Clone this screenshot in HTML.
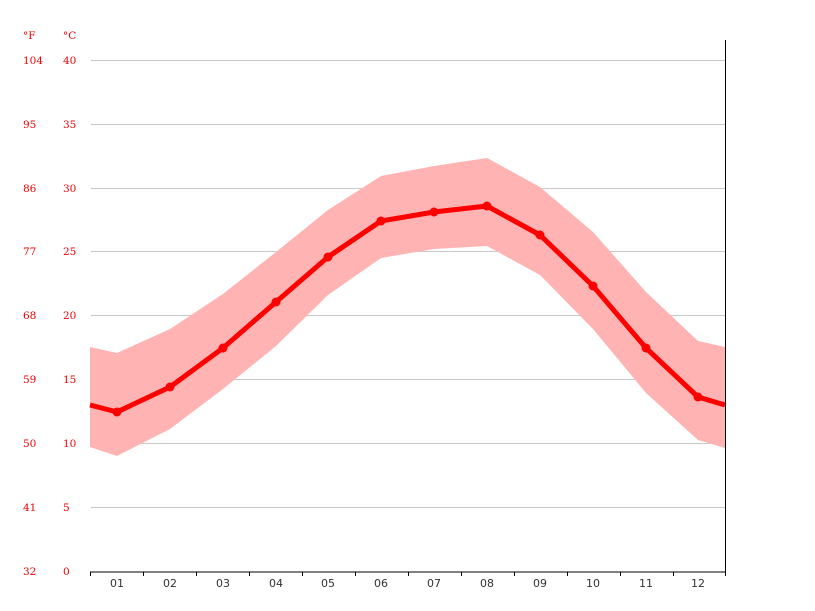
<!DOCTYPE html>
<html><head><style>body{margin:0;background:#fff}svg{display:block}</style></head><body>
<svg width="815" height="611" xmlns="http://www.w3.org/2000/svg">
<g stroke="#c8c8c8" stroke-width="1">
<line x1="91" x2="725" y1="60.5" y2="60.5"/><line x1="91" x2="725" y1="124.5" y2="124.5"/><line x1="91" x2="725" y1="188.5" y2="188.5"/><line x1="91" x2="725" y1="251.5" y2="251.5"/><line x1="91" x2="725" y1="315.5" y2="315.5"/><line x1="91" x2="725" y1="379.5" y2="379.5"/><line x1="91" x2="725" y1="443.5" y2="443.5"/><line x1="91" x2="725" y1="507.5" y2="507.5"/>
</g>
<g font-family="DejaVu Serif, serif" font-size="10.5" fill="#e00">
<text x="23" y="39">°F</text><text x="63" y="39">°C</text>
<text x="23" y="64">104</text><text x="63" y="64">40</text>
<text x="23" y="128">95</text><text x="63" y="128">35</text>
<text x="23" y="192">86</text><text x="63" y="192">30</text>
<text x="23" y="255">77</text><text x="63" y="255">25</text>
<text x="23" y="319">68</text><text x="63" y="319">20</text>
<text x="23" y="383">59</text><text x="63" y="383">15</text>
<text x="23" y="447">50</text><text x="63" y="447">10</text>
<text x="23" y="511">41</text><text x="63" y="511">5</text>
<text x="23" y="575">32</text><text x="63" y="575">0</text>
</g>
<polygon fill="#ffb3b3" points="90,347 117,353 170,329 223,294 276,252 328,210 381,176 434,166 487,158 540,187 593,232 646,292 698,341 725,347 725,448 698,440 646,393 593,329 540,275 487,246 434,249 381,258 328,295 276,346 223,389 170,429 117,456 90,447"/>
<polyline fill="none" stroke="#f00" stroke-width="5" stroke-linejoin="round" points="90,405 117,412 170,387 223,348 276,302 328,257 381,221 434,212 487,206 540,235 593,286 646,348 698,397 725,405"/>
<g fill="#f00">
<circle cx="117" cy="412" r="4.5"/><circle cx="170" cy="387" r="4.5"/><circle cx="223" cy="348" r="4.5"/><circle cx="276" cy="302" r="4.5"/><circle cx="328" cy="257" r="4.5"/><circle cx="381" cy="221" r="4.5"/><circle cx="434" cy="212" r="4.5"/><circle cx="487" cy="206" r="4.5"/><circle cx="540" cy="235" r="4.5"/><circle cx="593" cy="286" r="4.5"/><circle cx="646" cy="348" r="4.5"/><circle cx="698" cy="397" r="4.5"/>
</g>
<g stroke="#000" stroke-width="1">
<line x1="725.5" x2="725.5" y1="40" y2="572"/>
<line x1="90" x2="726" y1="572" y2="572"/>
<line x1="90.5" x2="90.5" y1="572" y2="576"/><line x1="143.5" x2="143.5" y1="572" y2="576"/><line x1="196.5" x2="196.5" y1="572" y2="576"/><line x1="249.5" x2="249.5" y1="572" y2="576"/><line x1="302.5" x2="302.5" y1="572" y2="576"/><line x1="355.5" x2="355.5" y1="572" y2="576"/><line x1="408.5" x2="408.5" y1="572" y2="576"/><line x1="461.5" x2="461.5" y1="572" y2="576"/><line x1="514.5" x2="514.5" y1="572" y2="576"/><line x1="567.5" x2="567.5" y1="572" y2="576"/><line x1="620.5" x2="620.5" y1="572" y2="576"/><line x1="673.5" x2="673.5" y1="572" y2="576"/><line x1="725.5" x2="725.5" y1="572" y2="576"/>
</g>
<g font-family="DejaVu Sans, sans-serif" font-size="11" fill="#333" text-anchor="middle">
<text x="117" y="587">01</text><text x="170" y="587">02</text><text x="223" y="587">03</text><text x="276" y="587">04</text><text x="328" y="587">05</text><text x="381" y="587">06</text><text x="434" y="587">07</text><text x="487" y="587">08</text><text x="540" y="587">09</text><text x="593" y="587">10</text><text x="646" y="587">11</text><text x="698" y="587">12</text>
</g>
</svg>
</body></html>
